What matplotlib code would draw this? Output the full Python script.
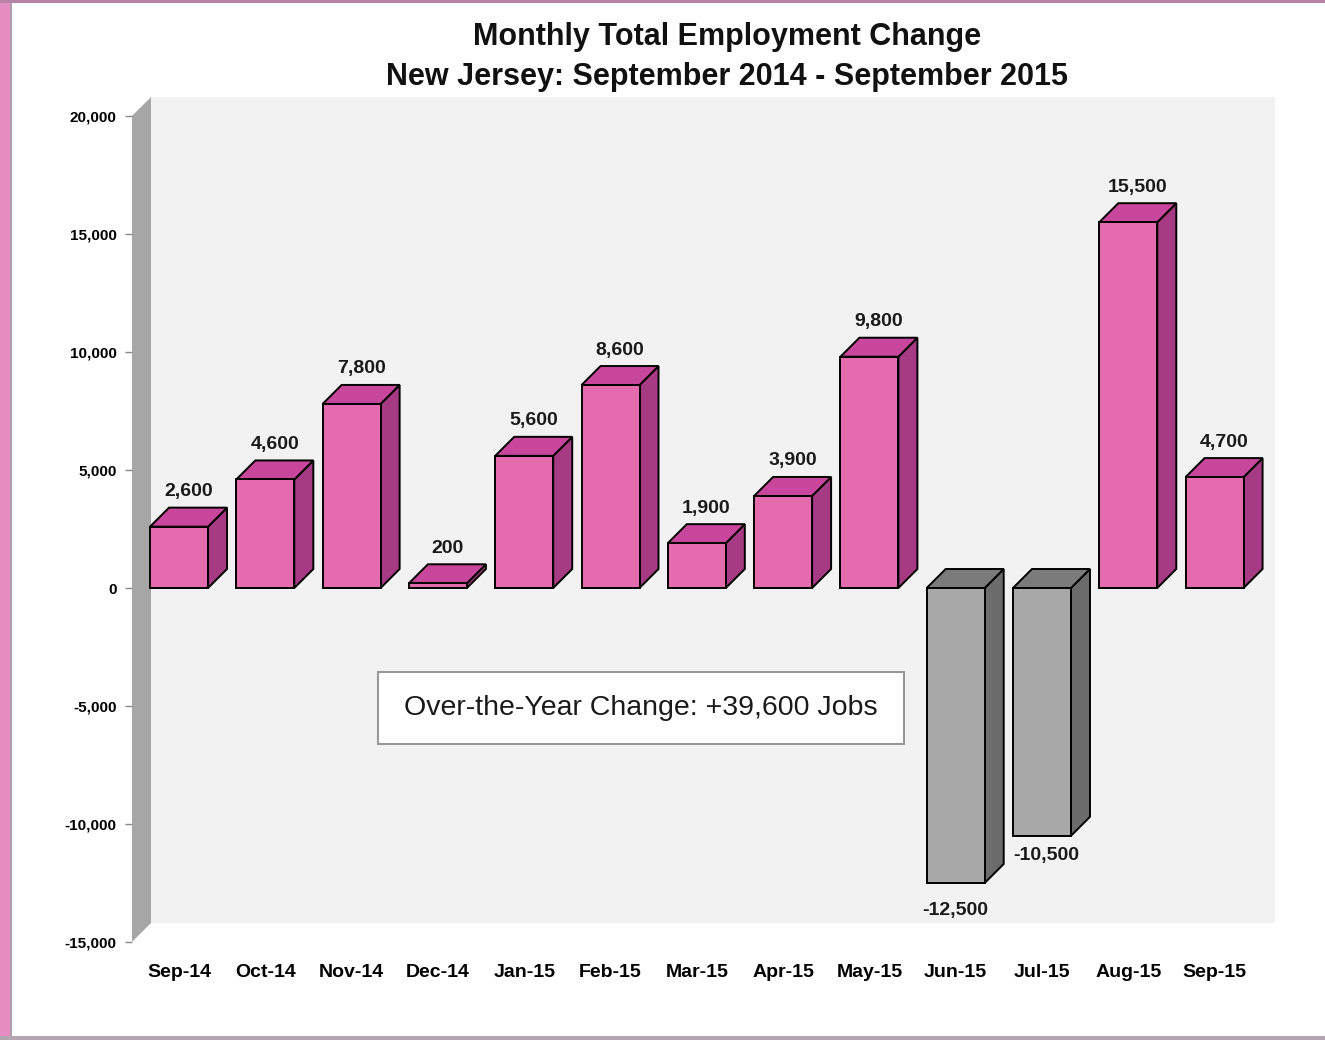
import matplotlib.pyplot as plt
from matplotlib.patches import Polygon, Rectangle
import numpy as np

# data
months = ['Sep-14', 'Oct-14', 'Nov-14', 'Dec-14', 'Jan-15', 'Feb-15', 'Mar-15',
          'Apr-15', 'May-15', 'Jun-15', 'Jul-15', 'Aug-15', 'Sep-15']
change = [2600, 4600, 7800, 200, 5600, 8600, 1900, 3900, 9800, -12500, -10500, 15500, 4700]
yticks = [-15000, -10000, -5000, 0, 5000, 10000, 15000, 20000]
title = 'Monthly Total Employment Change\nNew Jersey: September 2014 - September 2015'
note = 'Over-the-Year Change: +39,600 Jobs'

narrow = ['Liberation Sans Narrow', 'Liberation Sans', 'DejaVu Sans']
plt.rcParams['font.family'] = narrow

W, H = 1325, 1040
fig = plt.figure(figsize=(W / 100, H / 100), dpi=100)

# front plane of the chart in pixels
x_left_px, x_right_px = 132, 1256
y_top_px, y_bot_px = 116, 942
ax = fig.add_axes([x_left_px / W, 1 - y_bot_px / H,
                   (x_right_px - x_left_px) / W, (y_bot_px - y_top_px) / H])
xlim = (-0.545, 12.48)
ylim = (-15000, 20000)
ax.set_xlim(*xlim)
ax.set_ylim(*ylim)
ax.patch.set_visible(False)
for s in ax.spines.values():
    s.set_visible(False)

# depth of the 3D effect (19 px) in data units
px_x = (xlim[1] - xlim[0]) / (x_right_px - x_left_px)
px_y = (ylim[1] - ylim[0]) / (y_bot_px - y_top_px)
dx, dy = 19 * px_x, 19 * px_y

# back wall and left wall
ax.add_patch(Polygon([(xlim[0] + dx, ylim[0] + dy), (xlim[1] + dx, ylim[0] + dy),
                      (xlim[1] + dx, ylim[1] + dy), (xlim[0] + dx, ylim[1] + dy)],
                     closed=True, fc='#f2f2f2', ec='none', clip_on=False, zorder=0))
ax.add_patch(Polygon([(xlim[0], ylim[0]), (xlim[0] + dx, ylim[0] + dy),
                      (xlim[0] + dx, ylim[1] + dy), (xlim[0], ylim[1])],
                     closed=True, fc='#a6a6a6', ec='none', clip_on=False, zorder=1))

bw = 58 * px_x
x = np.arange(len(months))
for i, v in enumerate(change):
    if v >= 0:
        front, top, side = '#e46bad', '#c8479d', '#a63b83'
    else:
        front, top, side = '#a8a8a8', '#7b7b7b', '#6c6c6c'
    x0, x1 = x[i] - bw / 2, x[i] + bw / 2
    lo, hi = min(0, v), max(0, v)
    z = 3 + i * 0.01
    ax.add_patch(Polygon([(x1, lo), (x1 + dx, lo + dy), (x1 + dx, hi + dy), (x1, hi)],
                         closed=True, fc=side, ec='black', lw=1.4, zorder=z, clip_on=False))
    ax.add_patch(Polygon([(x0, hi), (x0 + dx, hi + dy), (x1 + dx, hi + dy), (x1, hi)],
                         closed=True, fc=top, ec='black', lw=1.4, zorder=z, clip_on=False))
    ax.add_patch(Rectangle((x0, lo), bw, hi - lo, fc=front, ec='black', lw=1.4,
                           zorder=z + 0.005, clip_on=False))
    lab = f'{v:,}'
    if v >= 0:
        ax.text(x[i] + dx / 2, hi + dy + 16 * px_y, lab, ha='center', va='center',
                fontsize=14, fontweight='bold', color='#1a1a1a', zorder=10)
    elif i == 9:
        ax.text(x[i], lo - 28 * px_y, lab, ha='center', va='center',
                fontsize=14, fontweight='bold', color='#1a1a1a', zorder=10)
    else:
        ax.text(x[i] + 0.05, lo - 20 * px_y, lab, ha='center', va='center',
                fontsize=14, fontweight='bold', color='#1a1a1a', zorder=10)

ax.set_yticks(yticks)
ax.set_yticklabels([f'{t:,}' for t in yticks], fontsize=11, fontweight='bold')
ax.tick_params(axis='y', length=5, width=1, color='#888888', pad=6)
ax.set_xticks(x)
ax.set_xticklabels(months, fontsize=14, fontweight='bold')
ax.tick_params(axis='x', length=0, pad=16)

# note box
ax.add_patch(Rectangle((2.306, -6610), 8.40 - 2.306, 6610 - 3559, fc='white',
                       ec='#999999', lw=1.5, zorder=11, clip_on=False))
ax.text(5.35, -5085, note, ha='center', va='center', fontsize=20.5, color='#1a1a1a',
        zorder=12)

fig.text(0.549, 0.979, title, ha='center', va='top', fontsize=22, fontweight='bold',
         linespacing=1.45, color='#111111')

# page frame
fig.patches.append(Rectangle((0, 0), 10 / W, 1, transform=fig.transFigure,
                             fc='#e68dc2', ec='none'))
fig.patches.append(Rectangle((10 / W, 0), 2 / W, 1, transform=fig.transFigure,
                             fc='#b0a0ab', ec='none'))
fig.patches.append(Rectangle((0, 1 - 3 / H), 1, 3 / H, transform=fig.transFigure,
                             fc='#b784a8', ec='none'))
fig.patches.append(Rectangle((0, 0), 1, 4 / H, transform=fig.transFigure,
                             fc='#b3a6b0', ec='none'))

fig.savefig('out.png', dpi=100)
